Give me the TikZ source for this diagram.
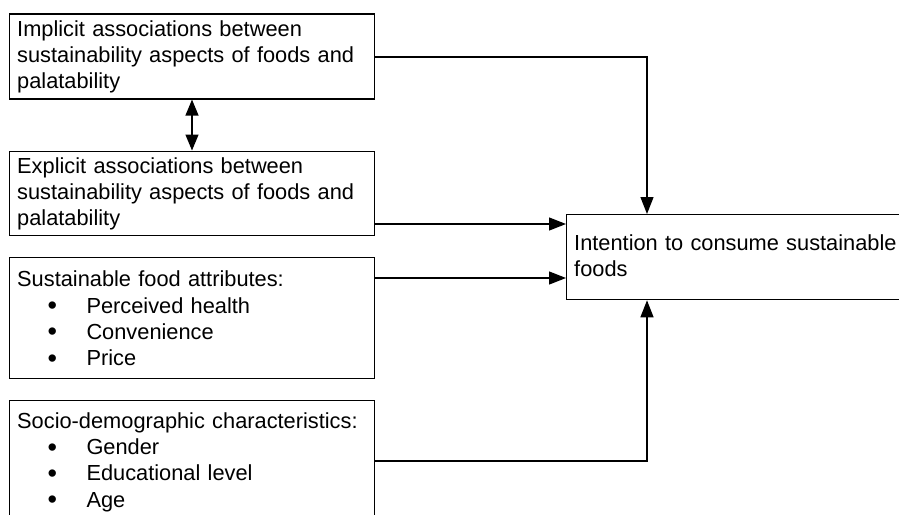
\documentclass[tikz,border=0pt]{standalone}
\usepackage{fontspec}
\setmainfont{Liberation Sans}
\usetikzlibrary{arrows.meta,calc}

% indented list line with a round bullet
\newcommand{\itembul}[1]{\hspace*{30.5pt}\makebox[38.8pt][l]{\raisebox{-1.6pt}{\fontsize{27pt}{27pt}\selectfont •}}#1}

\tikzset{
  box/.style={draw, line width=1.3pt, rectangle, inner sep=0pt, anchor=north west},
  label/.style={anchor=base west, inner sep=0pt, align=left, text width=350pt,
    font=\fontsize{21.8pt}{26.3pt}\selectfont},
  arr/.style={line width=1.3pt, -{Triangle[length=17pt,width=13pt]}},
  twoway/.style={line width=1.3pt, {Triangle[length=16pt,width=13pt]}-{Triangle[length=16pt,width=13pt]}}
}

\begin{document}
\begin{tikzpicture}[x=1pt,y=-1pt]
  \useasboundingbox (0,0) rectangle (899,514);
  \clip (0,0) rectangle (899,514);

  % left column of factor boxes
  \node[box, minimum width=365pt, minimum height=85pt] (b1) at (9,13.3) {};
  \node[box, minimum width=365pt, minimum height=84.5pt] (b2) at (9,150.5) {};
  \node[box, minimum width=365pt, minimum height=121pt] (b3) at (9,257) {};
  \node[box, minimum width=365pt, minimum height=140pt] (b4) at (9,400) {};

  % outcome box, running past the right margin
  \node[box, minimum width=345pt, minimum height=85pt] (t) at (566,214) {};

  % box texts
  \node[label] (l1) at (17,36) {Implicit associations between\\sustainability aspects of foods and\\palatability};
  \node[label] (l2) at (17,173.3) {Explicit associations between\\sustainability aspects of foods and\\palatability};
  \node[label] (l3) at (17,286.7) {Sustainable food attributes:\\\itembul{Perceived health}\\\itembul{Convenience}\\\itembul{Price}};
  \node[label] (l4) at (17,428.3) {Socio-demographic characteristics:\\\itembul{Gender}\\\itembul{Educational level}\\\itembul{Age}};
  \node[label, text width=330pt] (lt) at (574,250) {Intention to consume sustainable\\foods};

  % connectors
  \draw[twoway] (b1.south -| 192,0) -- (b2.north -| 192,0);
  \draw[arr] (b1.east |- 0,57) -| (t.north -| 647,0);
  \draw[arr] (b2.east |- 0,224) -- (t.west |- 0,224);
  \draw[arr] (b3.east |- 0,278) -- (t.west |- 0,278);
  \draw[arr] (b4.east |- 0,461) -| (t.south -| 647,0);
\end{tikzpicture}
\end{document}
